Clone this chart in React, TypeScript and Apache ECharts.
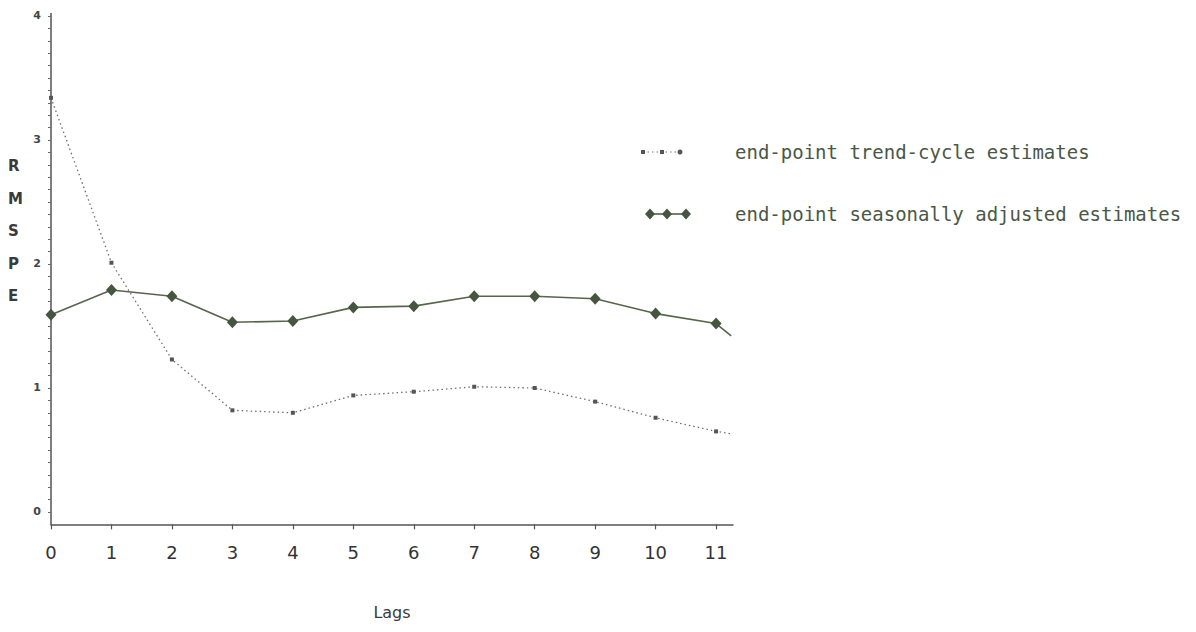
import React, { useEffect, useRef } from "react";
import * as echarts from "echarts";

// ---- data ----
const lags = [0, 1, 2, 3, 4, 5, 6, 7, 8, 9, 10, 11];
const trendCycle = [3.34, 2.01, 1.23, 0.82, 0.8, 0.94, 0.97, 1.01, 1.0, 0.89, 0.76, 0.65];
const seasonallyAdjusted = [1.59, 1.79, 1.74, 1.53, 1.54, 1.65, 1.66, 1.74, 1.74, 1.72, 1.6, 1.52];
// line tails drawn past the last lag (no marker)
const tailLag = 11.25;
const trendTail = 0.63;
const seasonalTail = 1.42;

const xTickLabels = [0, 1, 2, 3, 4, 5, 6, 7, 8, 9, 10, 11];
const yTickLabels = [0, 1, 2, 3, 4];
const yMinorTicks: number[] = [];
for (let i = 0; i <= 40; i++) yMinorTicks.push(i / 10);

const legendNames = [
  "end-point trend-cycle estimates",
  "end-point seasonally adjusted estimates",
];
const yAxisTitle = "R\nM\nS\nP\nE";
const xAxisTitle = "Lags";

const GREEN = "#46553f";
const MONO = "'DejaVu Sans Mono', 'Liberation Mono', monospace";

export default function App() {
  const ref = useRef<HTMLDivElement>(null);
  useEffect(() => {
    if (!ref.current) return;
    const chart = echarts.init(ref.current, null, { renderer: "svg" });

    const trendData: any[] = lags.map((l, i) => [l, trendCycle[i]]);
    trendData.push({ value: [tailLag, trendTail], symbol: "none" });
    const seasData: any[] = lags.map((l, i) => [l, seasonallyAdjusted[i]]);
    seasData.push({ value: [tailLag, seasonalTail], symbol: "none" });

    const diamond = (cx: number, cy: number) => ({
      type: "polygon",
      shape: { points: [[cx, cy - 5.5], [cx + 5, cy], [cx, cy + 5.5], [cx - 5, cy]] },
      style: { fill: GREEN },
    });

    chart.setOption({
      animation: false,
      backgroundColor: "#ffffff",
      grid: { left: 51, right: 463, top: 13.5, bottom: 107.6, containLabel: false },
      xAxis: {
        type: "value",
        min: 0,
        max: 11.28,
        name: xAxisTitle,
        nameLocation: "middle",
        nameGap: 80,
        nameTextStyle: { fontFamily: "'DejaVu Sans', sans-serif", fontSize: 16, color: "#3a3a3a" },
        axisLine: { onZero: false, lineStyle: { color: "#555", width: 1.5 } },
        axisTick: {
          show: true,
          length: 5,
          customValues: xTickLabels,
          lineStyle: { color: "#555", width: 1.2 },
        },
        axisLabel: {
          customValues: xTickLabels,
          margin: 19,
          fontFamily: "'DejaVu Sans', sans-serif",
          fontSize: 18,
          color: "#333",
        },
        splitLine: { show: false },
      },
      yAxis: {
        type: "value",
        min: -0.1,
        max: 4.02,
        axisLine: { show: true, lineStyle: { color: "#555", width: 1.5 } },
        axisTick: {
          show: true,
          length: 3,
          customValues: yMinorTicks,
          lineStyle: { color: "#666", width: 1 },
        },
        axisLabel: {
          customValues: yTickLabels,
          margin: 10,
          fontFamily: "'DejaVu Sans', sans-serif",
          fontSize: 11,
          fontWeight: "bold",
          color: "#444",
        },
        splitLine: { show: false },
      },
      series: [
        {
          name: legendNames[0],
          type: "line",
          data: trendData,
          symbol: "rect",
          symbolSize: 4,
          showAllSymbol: true,
          itemStyle: { color: "#555" },
          lineStyle: { color: "#6e6e6e", width: 1.3, type: [1.5, 3] },
          z: 2,
        },
        {
          name: legendNames[1],
          type: "line",
          data: seasData,
          symbol: "diamond",
          symbolSize: [11, 12],
          showAllSymbol: true,
          itemStyle: { color: GREEN },
          lineStyle: { color: "#56654c", width: 1.6 },
          z: 3,
        },
      ],
      graphic: [
        {
          type: "text",
          left: 8,
          top: 150,
          style: {
            text: yAxisTitle,
            fontFamily: "'DejaVu Sans', sans-serif",
            fontSize: 15,
            fontWeight: "bold",
            lineHeight: 32.5,
            fill: "#3a3a3a",
          },
        },
        // legend row 1
        {
          type: "line",
          shape: { x1: 643, y1: 152, x2: 681, y2: 152 },
          style: { stroke: "#777", lineWidth: 1.2, lineDash: [1.5, 3] },
        },
        { type: "rect", shape: { x: 641, y: 150, width: 4, height: 4 }, style: { fill: "#555" } },
        { type: "rect", shape: { x: 660, y: 150, width: 4, height: 4 }, style: { fill: "#555" } },
        { type: "circle", shape: { cx: 680, cy: 152, r: 2.5 }, style: { fill: "#555" } },
        {
          type: "text",
          x: 735,
          y: 152,
          style: {
            text: legendNames[0],
            fontFamily: MONO,
            fontSize: 19,
            fill: "#4b5746",
            verticalAlign: "middle",
          },
        },
        // legend row 2
        {
          type: "line",
          shape: { x1: 650, y1: 214, x2: 686, y2: 214 },
          style: { stroke: GREEN, lineWidth: 1.6 },
        },
        diamond(650, 214),
        diamond(667, 214),
        diamond(686, 214),
        {
          type: "text",
          x: 735,
          y: 214,
          style: {
            text: legendNames[1],
            fontFamily: MONO,
            fontSize: 19,
            fill: "#4b5746",
            verticalAlign: "middle",
          },
        },
      ],
    });
    return () => chart.dispose();
  }, []);

  return (
    <div
      ref={ref}
      style={{ position: "absolute", left: 0, top: 0, width: 1196, height: 632, background: "#fff" }}
    />
  );
}
